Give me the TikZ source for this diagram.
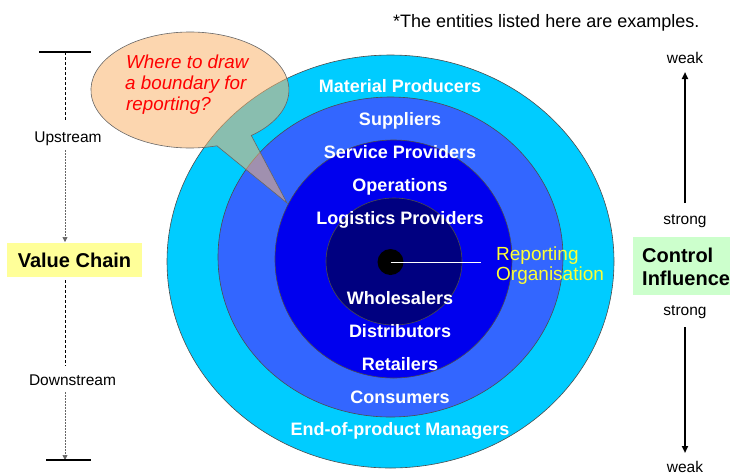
\documentclass[tikz,border=0pt]{standalone}
\usepackage{fontspec}
\setmainfont{Liberation Sans}
\usetikzlibrary{arrows.meta}
\definecolor{ringA}{RGB}{0,204,255}
\definecolor{ringB}{RGB}{51,102,255}
\definecolor{ringC}{RGB}{0,0,238}
\definecolor{ringD}{RGB}{0,0,128}
\definecolor{calloutfill}{RGB}{250,180,110}
\definecolor{vcyellow}{RGB}{255,255,153}
\definecolor{cigreen}{RGB}{204,255,204}
\definecolor{repyellow}{RGB}{255,255,51}
\definecolor{qred}{RGB}{255,0,0}
\begin{document}
\begin{tikzpicture}[x=1pt,y=-1pt,
  ring/.style={draw=black!70, line width=0.6pt},
  lbl/.style={text=white, font=\fontsize{18}{20}\selectfont\bfseries, inner sep=0pt, anchor=base},
  replbl/.style={text=repyellow, font=\fontsize{19}{20}\selectfont, inner sep=0pt, anchor=base west},
  qlbl/.style={text=qred, font=\fontsize{18.8}{21}\selectfont\itshape, inner sep=0pt, anchor=base west},
  smalllbl/.style={font=\fontsize{15.5}{18}\selectfont, inner sep=0pt, anchor=base},
  biglbl/.style={font=\fontsize{20}{22}\selectfont\bfseries, inner sep=0pt},
  bar/.style={line width=1.2pt},
  dashline/.style={line width=0.8pt, dash pattern=on 3pt off 2pt},
  dotline/.style={line width=0.7pt, black!60, dash pattern=on 1.5pt off 1.5pt},
  bigarrow/.style={line width=2pt, -{Triangle[length=7pt,width=6pt]}}
]
\useasboundingbox (0,0) rectangle (733,475);

% rings
\filldraw[ring, fill=ringA] (390.5,261.5) ellipse [x radius=223.5, y radius=206.5];
\filldraw[ring, fill=ringB] (390.5,257) ellipse [x radius=172.5, y radius=160];
\filldraw[ring, fill=ringC] (393.5,259) ellipse [x radius=118.5, y radius=119];
\filldraw[ring, fill=ringD] (394,261.5) ellipse [x radius=68, y radius=63.5];
\node[circle, fill=black, minimum size=26pt, inner sep=0pt] (dot) at (390.5,262) {};
\coordinate (lineend) at (481,262);
\draw[white, line width=1pt] (dot.center) -- (lineend);

% ring labels
\node[lbl] (mp) at (400,92) {Material Producers};
\node[lbl] (sup) at (400,125) {Suppliers};
\node[lbl] (sp) at (400,158) {Service Providers};
\node[lbl] (ops) at (400,191) {Operations};
\node[lbl] (lp) at (400,224) {Logistics Providers};
\node[lbl] (wh) at (400,304) {Wholesalers};
\node[lbl] (dis) at (400,337) {Distributors};
\node[lbl] (ret) at (400,370) {Retailers};
\node[lbl] (con) at (400,403) {Consumers};
\node[lbl] (eop) at (400,435) {End-of-product Managers};
\node[replbl] (rep1) at (496,260) {Reporting};
\node[replbl] (rep2) at (496,280) {Organisation};

% callout
\filldraw[fill=calloutfill, fill opacity=0.55, draw=black!60, line width=0.6pt]
  (287,203) -- (216.9,145.8) arc [start angle=74.2, end angle=411.7, x radius=99, y radius=58] -- cycle;
\node[qlbl] (q1) at (126,68) {Where to draw};
\node[qlbl] (q2) at (125,89) {a boundary for};
\node[qlbl] (q3) at (126,110) {reporting?};

% note
\node[font=\fontsize{18}{20}\selectfont, inner sep=0pt, anchor=base west] (note) at (393,27.7) {*The entities listed here are examples.};

% left: value chain
\coordinate (tbl) at (39,52);
\coordinate (tbr) at (91,52);
\coordinate (tbm) at (65,52);
\coordinate (ds1) at (65,120);
\draw[bar] (tbl) -- (tbr);
\draw[dashline] (tbm) -- (ds1);
\node[smalllbl] (up) at (68,142) {Upstream};
\coordinate (upb) at (65,150);
\node[fill=vcyellow, minimum width=135pt, minimum height=34pt, inner sep=0pt] (vcbox) at (74.5,260) {};
\node[biglbl, anchor=base] (vc) at (74.5,267) {Value Chain};
\coordinate (vctop) at (65,242);
\draw[dotline, -{Triangle[length=5pt,width=5pt]}] (upb) -- (vctop);
\coordinate (vcb) at (65,280);
\coordinate (ds2) at (65,366);
\draw[dashline] (vcb) -- (ds2);
\node[smalllbl] (down) at (72.5,385) {Downstream};
\coordinate (dwb) at (65,392);
\coordinate (bbm) at (65,460);
\coordinate (bbl) at (46,460);
\coordinate (bbr) at (91,460);
\draw[dotline, -{Triangle[length=5pt,width=5pt]}] (dwb) -- (bbm);
\draw[bar] (bbl) -- (bbr);

% right: control influence
\node[smalllbl] (weak1) at (685,63) {weak};
\node[smalllbl] (strong1) at (685,224) {strong};
\coordinate (ua) at (685,203);
\coordinate (ub) at (685,72);
\draw[bigarrow] (ua) -- (ub);
\node[fill=cigreen, minimum width=97pt, minimum height=58pt, inner sep=0pt] (cibox) at (681.5,266) {};
\node[biglbl, anchor=base west] (ci1) at (642,262) {Control};
\node[biglbl, anchor=base west] (ci2) at (642,285) {Influence};
\node[smalllbl] (strong2) at (685,315) {strong};
\coordinate (da) at (685,327);
\coordinate (db) at (685,453);
\draw[bigarrow] (da) -- (db);
\node[smalllbl] (weak2) at (685,472) {weak};
\end{tikzpicture}
\end{document}
